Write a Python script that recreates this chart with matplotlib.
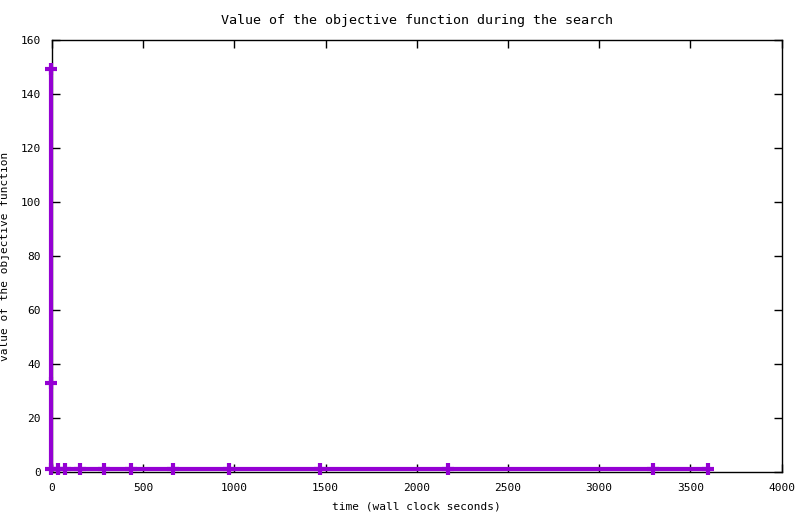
import matplotlib
matplotlib.use('Agg')
import matplotlib.pyplot as plt

# search trace: wall clock seconds vs objective value
times = [-5, -5, -5, 31, 71, 153, 285, 433, 663, 970, 1469, 2170, 3295, 3596]
values = [149, 33, 1.2, 1.2, 1.2, 1.2, 1.2, 1.2, 1.2, 1.2, 1.2, 1.2, 1.2, 1.2]

x_ticks = [0, 500, 1000, 1500, 2000, 2500, 3000, 3500, 4000]
y_ticks = [0, 20, 40, 60, 80, 100, 120, 140, 160]

plt.rcParams['font.family'] = ['DejaVu Sans Mono']
plt.rcParams['font.size'] = 8

fig = plt.figure(figsize=(8, 5.14), dpi=100)
ax = fig.add_axes([0.065, 0.0811, 0.912, 0.8417])

ax.plot(times, values, color='#9400D3', linewidth=3, marker='+',
        markersize=8, markeredgewidth=3, clip_on=False, zorder=3)

ax.set_xlim(0, 4000)
ax.set_ylim(0, 160)
ax.set_xticks(x_ticks)
ax.set_yticks(y_ticks)
ax.tick_params(direction='in', top=True, right=True, length=6, width=1, pad=8)
for s in ax.spines.values():
    s.set_linewidth(1)

ax.set_title('Value of the objective function during the search', pad=11)
ax.set_xlabel('time (wall clock seconds)', labelpad=6)
ax.set_ylabel('value of the objective function')
ax.yaxis.set_label_coords(-0.058, 0.5)

fig.savefig('out.png', dpi=100)
